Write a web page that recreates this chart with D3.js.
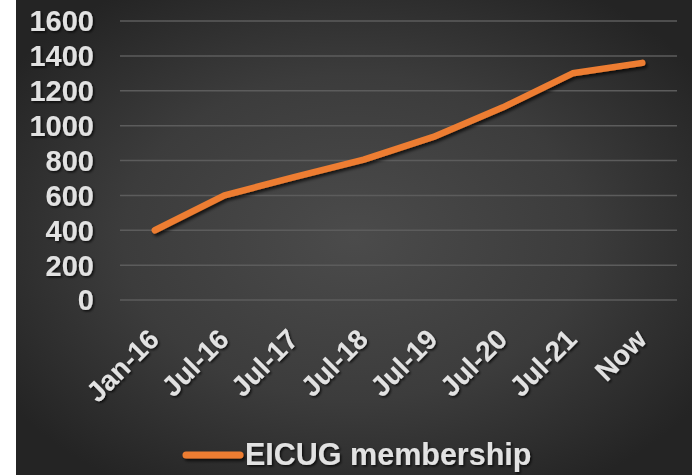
<!DOCTYPE html>
<html>
<head>
<meta charset="utf-8">
<script src="https://cdn.jsdelivr.net/npm/d3@7"></script>
<style>
  html, body { margin: 0; padding: 0; background: #ffffff; }
  svg { display: block; }
</style>
</head>
<body>
<div id="chart"></div>
<script>
const categories = ["Jan-16", "Jul-16", "Jul-17", "Jul-18", "Jul-19", "Jul-20", "Jul-21", "Now"];
const membership = [400, 600, 705, 805, 935, 1105, 1300, 1360];
const yTicks = [0, 200, 400, 600, 800, 1000, 1200, 1400, 1600];
const seriesName = "EICUG membership";

const W = 692, H = 475;
const svg = d3.select("#chart").append("svg").attr("width", W).attr("height", H);
const defs = svg.append("defs");

const grad = defs.append("radialGradient").attr("id", "bg")
  .attr("cx", "50%").attr("cy", "50%").attr("r", "62%");
grad.append("stop").attr("offset", "0%").attr("stop-color", "#4b4b4b");
grad.append("stop").attr("offset", "55%").attr("stop-color", "#3c3c3c");
grad.append("stop").attr("offset", "100%").attr("stop-color", "#242424");

const shadow = defs.append("filter").attr("id", "shadow")
  .attr("x", "-20%").attr("y", "-20%").attr("width", "140%").attr("height", "140%");
shadow.append("feDropShadow").attr("dx", 1.5).attr("dy", 1.5).attr("stdDeviation", 1)
  .attr("flood-color", "#000").attr("flood-opacity", 0.75);

const lshadow = defs.append("filter").attr("id", "lshadow")
  .attr("filterUnits", "userSpaceOnUse")
  .attr("x", 0).attr("y", 0).attr("width", W).attr("height", H);
lshadow.append("feDropShadow").attr("dx", 2).attr("dy", 2.5).attr("stdDeviation", 1.5)
  .attr("flood-color", "#000").attr("flood-opacity", 0.7);

svg.append("rect").attr("x", 16).attr("y", 0).attr("width", W - 16).attr("height", H)
  .attr("fill", "url(#bg)");

const x = d3.scalePoint().domain(categories).range([120, 677]).padding(0.5);
const y = d3.scaleLinear().domain([0, 1600]).range([300, 21]);

const font = "'Liberation Sans', Arial, sans-serif";
const textColor = "#e2e2e2";

// gridlines
svg.append("g").selectAll("line").data(yTicks).join("line")
  .attr("x1", 120).attr("x2", 677)
  .attr("y1", d => y(d)).attr("y2", d => y(d))
  .attr("stroke", "#5c5c5c").attr("stroke-width", 1.5);

// y labels
svg.append("g").attr("filter", "url(#shadow)").selectAll("text").data(yTicks).join("text")
  .attr("x", 94).attr("y", d => y(d)).attr("dy", "0.36em")
  .attr("text-anchor", "end")
  .attr("font-family", font).attr("font-weight", "bold").attr("font-size", 29)
  .attr("fill", textColor)
  .text(d => d);

// x labels
svg.append("g").attr("filter", "url(#shadow)").selectAll("text").data(categories).join("text")
  .attr("transform", d => `translate(${x(d) + 6},341) rotate(-45)`)
  .attr("text-anchor", "end")
  .attr("font-family", font).attr("font-weight", "bold").attr("font-size", 28)
  .attr("fill", textColor)
  .text(d => d);

// line
const line = d3.line().x((d, i) => x(categories[i])).y(d => y(d));
svg.append("path").datum(membership)
  .attr("d", line)
  .attr("fill", "none").attr("stroke", "#ed7d31").attr("stroke-width", 6.5)
  .attr("stroke-linecap", "round").attr("stroke-linejoin", "round")
  .attr("filter", "url(#lshadow)");

// legend
const lg = svg.append("g");
lg.append("line").attr("x1", 186).attr("x2", 240).attr("y1", 455).attr("y2", 455)
  .attr("stroke", "#ed7d31").attr("stroke-width", 7).attr("stroke-linecap", "round")
  .attr("filter", "url(#lshadow)");
lg.append("text").attr("x", 245).attr("y", 465)
  .attr("font-family", font).attr("font-weight", "bold").attr("font-size", 30.5)
  .attr("fill", textColor).attr("filter", "url(#shadow)")
  .text(seriesName);
</script>
</body>
</html>
